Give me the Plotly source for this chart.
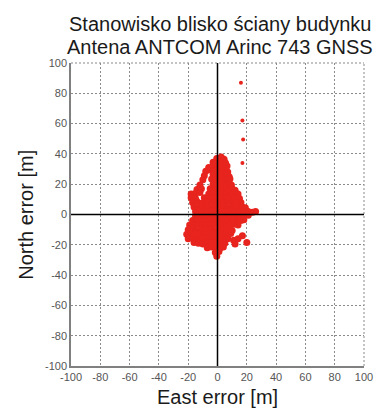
import plotly.graph_objects as go

# Position error samples [m]
east_err = [
    -0.5, 2.5, 4.5,
    -3, 0, 3, 5.5,
    -6, -3, 0, 3, 6.5,
    -8, -5, -2, 1, 4, 7,
    -9, -3, 0, 3, 6, 8,
    -10, -4, -1, 2, 5, 8.5,
    -12, -3, 0, 3, 6, 9.5,
    -14, -11, -5, -2, 1, 4, 7, 10, 12,
    -18, -15, -12, -6, -3, 0, 3, 6, 9, 12, 14,
    -18, -15, -9, -6, -3, 0, 3, 6, 9, 12, 15,
    -17, -14, -11, -8, -5, -2, 1, 4, 7, 10, 13, 16,
    -16, -13, -10, -7, -4, -1, 2, 5, 8, 11, 14, 17, 19,
    -15, -12, -9, -6, -3, 0, 3, 6, 9, 12, 15, 18, 21, 24, 26,
    -15, -12, -9, -6, -3, 0, 3, 6, 9, 12, 15, 18, 21,
    -17, -14, -11, -8, -5, -2, 1, 4, 7, 10, 13, 16, 18,
    -19, -16, -13, -10, -7, -4, -1, 2, 5, 8, 11, 14,
    -20, -17, -14, -11, -8, -5, -2, 1, 4, 7, 10,
    -21, -18, -15, -12, -9, -6, -3, 0, 3, 6, 9,
    -20, -17, -14, -11, -8, -5, -2, 1, 4, 7,
    -16, -13, -10, -7, -4, -1, 2, 5,
    -7, -4, -1, 2, 4,
    -1.5, 1,
    -0.5,
    14, 20, 17, 12, 11,
]
north_err = [
    37, 38, 36.5,
    34.5, 35, 35.5, 34,
    31, 32.5, 32, 31.5, 32,
    28.5, 29.5, 29, 28.5, 29.5, 28,
    25.5, 26.5, 25.5, 26, 26.5, 25,
    23, 23.5, 23, 22.5, 23, 23.5,
    19.5, 20, 19.5, 20.5, 20, 19.5,
    16.5, 17, 17, 16.5, 17, 17.5, 16.5, 17, 16,
    13.5, 14, 14.5, 13.5, 14, 14.5, 14, 13.5, 14, 14.5, 13.5,
    11, 10.5, 11, 10.5, 11, 11.5, 10.5, 11, 11.5, 11, 10.5,
    8, 8.5, 7.5, 8, 8.5, 8, 7.5, 8, 8.5, 8, 7.5, 8,
    5, 4.5, 5.5, 5, 4.5, 5, 5.5, 5, 4.5, 5, 5.5, 5, 4.5,
    2, 2.5, 1.5, 2, 2.5, 2, 1.5, 2, 2.5, 2, 1.5, 2, 2, 1.5, 2,
    -1, -0.5, -1.5, -1, -0.5, -1, -1.5, -1, -0.5, -1, -1.5, -1, -0.5,
    -4, -3.5, -4.5, -4, -3.5, -4, -4.5, -4, -3.5, -4, -4.5, -4, -3.5,
    -7, -7.5, -6.5, -7, -7.5, -7, -6.5, -7, -7.5, -7, -6.5, -7,
    -10, -9.5, -10.5, -10, -9.5, -10, -10.5, -10, -9.5, -10, -10.5,
    -13, -13.5, -12.5, -13, -13.5, -13, -12.5, -13, -13.5, -13, -12.5,
    -16, -15.5, -16.5, -16, -15.5, -16, -16.5, -16, -15.5, -16,
    -18.5, -19, -19.5, -19, -18.5, -19, -19.5, -19,
    -22, -21.5, -22.5, -22, -21.5,
    -25, -24.5,
    -27.5,
    -16, -18.5, -14, -19.5, -17,
]

# Isolated samples far from the main cluster
east_out = [17, 17.5, 17, 16]
north_out = [34, 49.5, 62, 87]

tick_vals = [-100, -80, -60, -40, -20, 0, 20, 40, 60, 80, 100]
axis_range = [-100, 100]

title_lines = ["Stanowisko blisko ściany budynku", "Antena ANTCOM Arinc 743 GNSS"]
x_title = "East error [m]"
y_title = "North error [m]"

RED = "rgb(232,36,30)"
FONT = "Liberation Sans, Arial, sans-serif"
GRID = "#8a8a8a"
GRID_DASH = "2px,2px"

fig = go.Figure()
fig.add_trace(go.Scatter(
    x=east_err, y=north_err, mode="markers",
    marker=dict(size=7, color=RED, line=dict(width=0)),
    hoverinfo="x+y",
))
fig.add_trace(go.Scatter(
    x=east_out, y=north_out, mode="markers",
    marker=dict(size=4, color=RED, line=dict(width=0)),
    hoverinfo="x+y",
))

axis_common = dict(
    range=axis_range, tickvals=tick_vals, ticktext=[str(v) for v in tick_vals],
    showgrid=True, gridcolor=GRID, gridwidth=1, griddash=GRID_DASH,
    zeroline=False, showline=True, linecolor="#808080", linewidth=1.5,
    ticks="", tickfont=dict(family=FONT, size=11, color="#555555"),
    fixedrange=True,
)
fig.update_xaxes(**axis_common)
fig.update_yaxes(**axis_common)

# Dotted box edges at the top and right of the plotting area
fig.add_shape(type="line", xref="paper", yref="paper", x0=0, x1=1, y0=1, y1=1,
              line=dict(color=GRID, width=1, dash=GRID_DASH), layer="below")
fig.add_shape(type="line", xref="paper", yref="paper", x0=1, x1=1, y0=0, y1=1,
              line=dict(color=GRID, width=1, dash=GRID_DASH), layer="below")

# Black cross through the origin, drawn above the samples
fig.add_shape(type="line", xref="x", yref="paper", x0=0, x1=0, y0=0, y1=1,
              line=dict(color="black", width=1.5), layer="above")
fig.add_shape(type="line", xref="paper", yref="y", x0=0, x1=1, y0=0, y1=0,
              line=dict(color="black", width=1.5), layer="above")

annotations = [
    dict(text=title_lines[0], x=0.51, y=1.129),
    dict(text=title_lines[1], x=0.51, y=1.053),
    dict(text=x_title, x=0.5, y=-0.102),
    dict(text=y_title, x=-0.156, y=0.5, textangle=-90),
]
for a in annotations:
    fig.add_annotation(xref="paper", yref="paper", showarrow=False,
                       xanchor="center", yanchor="middle",
                       font=dict(family=FONT, size=20, color="#1a1a1a"), **a)

fig.update_layout(
    width=385, height=410,
    margin=dict(l=71, r=12, t=63, b=44),
    paper_bgcolor="white", plot_bgcolor="white",
    showlegend=False,
)

fig.write_html("out.html")
